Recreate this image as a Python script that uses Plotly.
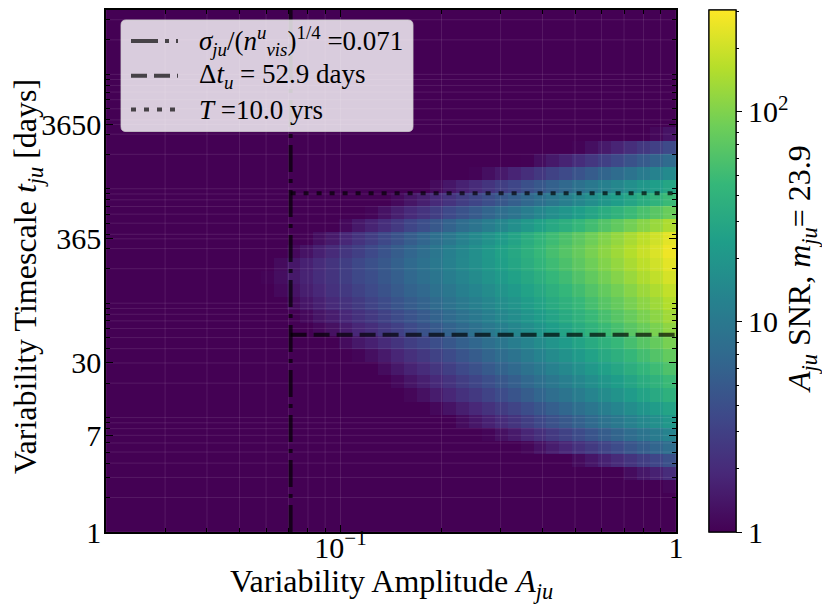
import numpy as np
import plotly.graph_objects as go

# grid of the SNR map: amplitude bins (x) and timescale bins in days (y), log spaced
amp_min, amp_max, n_amp = 0.02, 1.0, 44
t_min, t_max, n_t = 1.0, 36500.0, 40

# log10(SNR) x 100.
# one list per timescale bin, bottom to top, starting at bin 3;
# each list holds the lit cells at the right end of the row (left -> right),
# every cell further left sits at the colour floor (SNR = 1)
first_row = 3
log_snr_x100 = [
    [4],
    [8, 16, 23, 31],
    [7, 15, 23, 30, 38, 46, 53, 61],
    [4, 12, 20, 27, 35, 43, 51, 58, 66, 74, 81, 89],
    [3, 11, 18, 26, 34, 42, 49, 57, 65, 73, 80, 88, 96, 103, 111],
    [8, 15, 23, 31, 38, 46, 54, 62, 69, 77, 85, 93, 100, 108, 116, 123, 131],
    [5, 13, 21, 28, 36, 44, 51, 59, 67, 75, 82, 90, 98, 106, 113, 121, 129, 136, 144],
    [4, 11, 19, 27, 35, 42, 50, 58, 65, 73, 81, 89, 96, 104, 112, 120, 127, 135, 143, 150, 158],
    [6, 14, 21, 29, 37, 45, 52, 60, 68, 75, 83, 91, 99, 106, 114, 122, 130, 137, 145, 153, 160, 168],
    [8, 16, 24, 31, 39, 47, 55, 62, 70, 78, 85, 93, 101, 109, 116, 124, 132, 140, 147, 155, 163, 170, 178],
    [3, 10, 18, 26, 34, 41, 49, 57, 65, 72, 80, 88, 95, 103, 111, 119, 126, 134, 142, 150, 157, 165, 173, 180, 188],
    [8, 16, 22, 30, 38, 46, 52, 60, 68, 76, 82, 90, 98, 105, 112, 120, 128, 135, 143, 151, 159, 166, 174, 182, 189, 197],
    [5, 11, 19, 27, 33, 41, 48, 56, 63, 70, 78, 85, 92, 100, 107, 114, 121, 129, 137, 144, 152, 160, 168, 175, 183, 191, 198, 206],
    [6, 14, 20, 28, 35, 42, 49, 57, 64, 71, 78, 86, 93, 100, 107, 115, 121, 129, 136, 144, 151, 159, 167, 175, 182, 190, 198, 205, 213],
    [7, 15, 22, 29, 36, 43, 50, 57, 65, 72, 78, 86, 93, 101, 107, 114, 122, 128, 136, 143, 151, 158, 166, 174, 182, 189, 197, 205, 212, 220],
    [6, 13, 21, 28, 35, 42, 49, 56, 63, 71, 78, 84, 92, 99, 107, 113, 120, 128, 134, 142, 149, 157, 164, 172, 180, 188, 195, 203, 211, 218, 226],
    [2, 9, 17, 24, 32, 38, 46, 54, 60, 68, 75, 83, 90, 97, 105, 112, 119, 127, 134, 141, 148, 156, 164, 171, 179, 187, 195, 202, 210, 218, 225, 233],
    [7, 15, 23, 31, 38, 46, 54, 61, 69, 77, 85, 92, 100, 108, 116, 123, 131, 139, 146, 154, 162, 170, 177, 185, 193, 201, 208, 216, 224, 231, 239],
    [5, 13, 22, 30, 39, 47, 55, 64, 73, 81, 89, 98, 107, 115, 123, 132, 141, 148, 157, 166, 174, 181, 189, 197, 205, 212, 220, 228, 235, 243],
    [1, 10, 18, 27, 37, 45, 54, 63, 73, 81, 90, 99, 109, 117, 126, 135, 144, 153, 162, 170, 177, 185, 193, 201, 208, 216, 224, 231, 239],
    [6, 16, 24, 33, 42, 52, 60, 69, 78, 88, 96, 105, 114, 123, 132, 141, 149, 156, 164, 172, 180, 187, 195, 203, 210, 218],
    [3, 12, 21, 29, 37, 46, 55, 63, 71, 80, 89, 96, 105, 114, 122, 129, 137, 145, 153, 160, 168, 176, 183, 191],
    [6, 14, 21, 29, 37, 45, 52, 60, 68, 75, 83, 91, 99, 106, 114, 122, 130, 137, 145, 153, 160, 168],
    [7, 15, 23, 30, 38, 46, 53, 61, 69, 77, 84, 92, 100, 108, 115, 123, 131, 138, 146],
    [2, 10, 18, 25, 33, 41, 49, 56, 64, 72, 80, 87, 95, 103, 110, 118],
    [1, 9, 17, 24, 32, 40, 48, 55, 63, 71, 78, 86],
    [2, 10, 18, 25, 33, 41, 48, 56],
    [5, 13],
]
snr_top = 305.0  # top of the colour bar

# reference lines
sigma_limit = 0.071      # sigma_ju / (n_vis^u)^(1/4)
dt_u = 52.9              # days
T_yrs = 10.0
t_dotted = 913.0         # days, where the dotted line is drawn

# tick labels
x_major = [0.1, 1]
x_major_text = ["10<sup>\u22121</sup>", "1"]
y_major = [1, 7, 30, 365, 3650]
y_major_text = ["1", "7", "30", "365", "3650"]
x_minor = [0.02, 0.03, 0.04, 0.05, 0.06, 0.07, 0.08, 0.09,
           0.2, 0.3, 0.4, 0.5, 0.6, 0.7, 0.8, 0.9]
y_minor = [2, 3, 4, 5, 6, 8, 9, 10, 20, 40, 50, 60, 70, 80, 90, 100, 200, 300, 400,
           500, 600, 700, 800, 900, 1000, 2000, 3000, 4000, 5000, 6000, 7000,
           8000, 9000, 10000, 20000, 30000]
cb_major = [1, 10, 100]
cb_major_text = ["1", "10", "10<sup>2</sup>"]
cb_minor = [2, 3, 4, 5, 6, 7, 8, 9, 20, 30, 40, 50, 60, 70, 80, 90, 200, 300]

# build the map
amp_edges = np.logspace(np.log10(amp_min), np.log10(amp_max), n_amp + 1)
t_edges = np.logspace(np.log10(t_min), np.log10(t_max), n_t + 1)
z = np.zeros((n_t, n_amp))
for k, row in enumerate(log_snr_x100):
    z[first_row + k, n_amp - len(row):] = np.array(row) / 100.0

FONT = "Liberation Serif"
LINE_COL = "rgba(0,0,0,0.68)"
DASHDOT = "27px,7px,4px,7px"
DASH = "16px,7px"
DOT = "5px,8px"
zmax = np.log10(snr_top)

# page body has an 8px margin, so the figure is a bit smaller than the window
W, H = 822, 599
ML, MT, PW, PH = 98, 0, 570, 524

fig = go.Figure()

cb_common = dict(
    x=(709 - 8 - ML) / PW, xanchor="left", xpad=0, y=0.5, yanchor="middle",
    len=1, lenmode="fraction", ypad=0, thickness=27,
    outlinewidth=1.2, outlinecolor="black", tickmode="array",
)

fig.add_trace(go.Heatmap(
    x=amp_edges, y=t_edges, z=z,
    colorscale="Viridis", zmin=0, zmax=zmax,
    hoverinfo="skip",
    colorbar=dict(cb_common, tickvals=np.log10(cb_minor), showticklabels=False,
                  ticks="outside", ticklen=3, tickwidth=1, tickcolor="black"),
))

# second colour bar on top of the first, only for the labelled major ticks
fig.add_trace(go.Scatter(
    x=[None], y=[None], mode="markers", showlegend=False, hoverinfo="skip",
    marker=dict(
        color=[0], cmin=0, cmax=zmax, colorscale="Viridis", showscale=True,
        colorbar=dict(cb_common, tickvals=np.log10(cb_major), ticktext=cb_major_text,
                      ticks="outside", ticklen=6, tickwidth=1.2, tickcolor="black",
                      tickfont=dict(family=FONT, size=30, color="black")),
    ),
))

# faint grid drawn above the map
gx, gy = [], []
for v in x_major + x_minor:
    gx += [v, v, None]
    gy += [t_min, t_max, None]
for v in y_major + y_minor:
    gx += [amp_min, amp_max, None]
    gy += [v, v, None]
fig.add_trace(go.Scatter(
    x=gx, y=gy, mode="lines", showlegend=False, hoverinfo="skip",
    line=dict(color="rgba(255,255,255,0.1)", width=1),
))

fig.add_trace(go.Scatter(
    x=[sigma_limit, sigma_limit], y=[t_min, t_max], mode="lines", showlegend=False,
    line=dict(color=LINE_COL, width=4, dash=DASHDOT),
))
fig.add_trace(go.Scatter(
    x=[sigma_limit, amp_max], y=[dt_u, dt_u], mode="lines", showlegend=False,
    line=dict(color=LINE_COL, width=4, dash=DASH),
))
fig.add_trace(go.Scatter(
    x=[sigma_limit, amp_max], y=[t_dotted, t_dotted], mode="lines", showlegend=False,
    line=dict(color=LINE_COL, width=4, dash=DOT),
))


# hand made legend box (window pixel positions -> paper coordinates)
def px(x):
    return (x - 8 - ML) / PW


def py(y):
    return (MT + PH - (y - 8)) / PH


def rounded_box(xa, ya, xb, yb, r):
    pts = [("M", xa + r, ya), ("L", xb - r, ya), ("Q", xb, ya, xb, ya + r),
           ("L", xb, yb - r), ("Q", xb, yb, xb - r, yb), ("L", xa + r, yb),
           ("Q", xa, yb, xa, yb - r), ("L", xa, ya + r), ("Q", xa, ya, xa + r, ya)]
    out = ""
    for p in pts:
        cmd, c = p[0], p[1:]
        out += cmd + " " + " ".join(
            f"{px(c[i]):.5f},{py(c[i + 1]):.5f}" for i in range(0, len(c), 2)) + " "
    return out + "Z"


shapes = [dict(type="path", xref="paper", yref="paper",
               path=rounded_box(121, 18, 413, 130, 5),
               fillcolor="rgba(255,255,255,0.8)",
               line=dict(color="rgba(204,204,204,0.8)", width=1))]

legend_rows = [
    (39, DASHDOT, "<i>\u03c3<sub>ju</sub></i>/(<i>n<sup>u</sup><sub>vis</sub></i>)<sup>1/4</sup> =0.071"),
    (74, DASH, f"\u0394<i>t<sub>u</sub></i> = {dt_u} days"),
    (108, DOT, f"<i>T</i> ={T_yrs} yrs"),
]
annotations = []
for yy, dash, txt in legend_rows:
    shapes.append(dict(type="line", xref="paper", yref="paper",
                       x0=px(131), x1=px(178), y0=py(yy), y1=py(yy),
                       line=dict(color=LINE_COL, width=4, dash=dash)))
    annotations.append(dict(x=px(197), y=py(yy), xref="paper", yref="paper",
                            text=txt, showarrow=False, xanchor="left", yanchor="middle",
                            font=dict(family=FONT, size=27, color="black")))

TITLE_SIZE = 32
annotations += [
    dict(x=px(391), y=py(584), xref="paper", yref="paper",
         text="Variability Amplitude <i>A<sub>ju</sub></i>",
         showarrow=False, xanchor="center", yanchor="middle",
         font=dict(family=FONT, size=TITLE_SIZE, color="black")),
    dict(x=px(28), y=py(276), xref="paper", yref="paper", textangle=-90,
         text="Variability Timescale <i>t<sub>ju</sub></i> [days]",
         showarrow=False, xanchor="center", yanchor="middle",
         font=dict(family=FONT, size=TITLE_SIZE, color="black")),
    dict(x=px(801), y=py(268), xref="paper", yref="paper", textangle=-90,
         text="<i>A<sub>ju</sub></i> SNR, <i>m<sub>ju</sub></i>= 23.9",
         showarrow=False, xanchor="center", yanchor="middle",
         font=dict(family=FONT, size=TITLE_SIZE, color="black")),
]

axis_common = dict(
    type="log", showline=True, linecolor="black", linewidth=1.5, mirror="allticks",
    ticks="inside", ticklen=7, tickwidth=1.2, tickcolor="black",
    showgrid=False, zeroline=False, layer="above traces",
    tickfont=dict(family=FONT, size=30, color="black"),
    tickmode="array",
    minor=dict(ticks="inside", ticklen=4, tickwidth=1, tickcolor="black",
               showgrid=False, tickmode="array"),
)

fig.update_layout(
    width=W, height=H,
    margin=dict(l=ML, r=W - ML - PW, t=MT, b=H - MT - PH),
    paper_bgcolor="white", plot_bgcolor="white",
    font=dict(family=FONT, size=30, color="black"),
    showlegend=False,
    shapes=shapes, annotations=annotations,
    xaxis=dict(axis_common, range=[np.log10(amp_min), np.log10(amp_max)],
               tickvals=x_major, ticktext=x_major_text, ticklabelstandoff=-12),
    yaxis=dict(axis_common, range=[np.log10(t_min), np.log10(t_max)],
               tickvals=y_major, ticktext=y_major_text, ticklabelstandoff=-3),
)
fig.update_xaxes(minor=dict(tickvals=x_minor))
fig.update_yaxes(minor=dict(tickvals=y_minor))

fig.write_html("out.html")
